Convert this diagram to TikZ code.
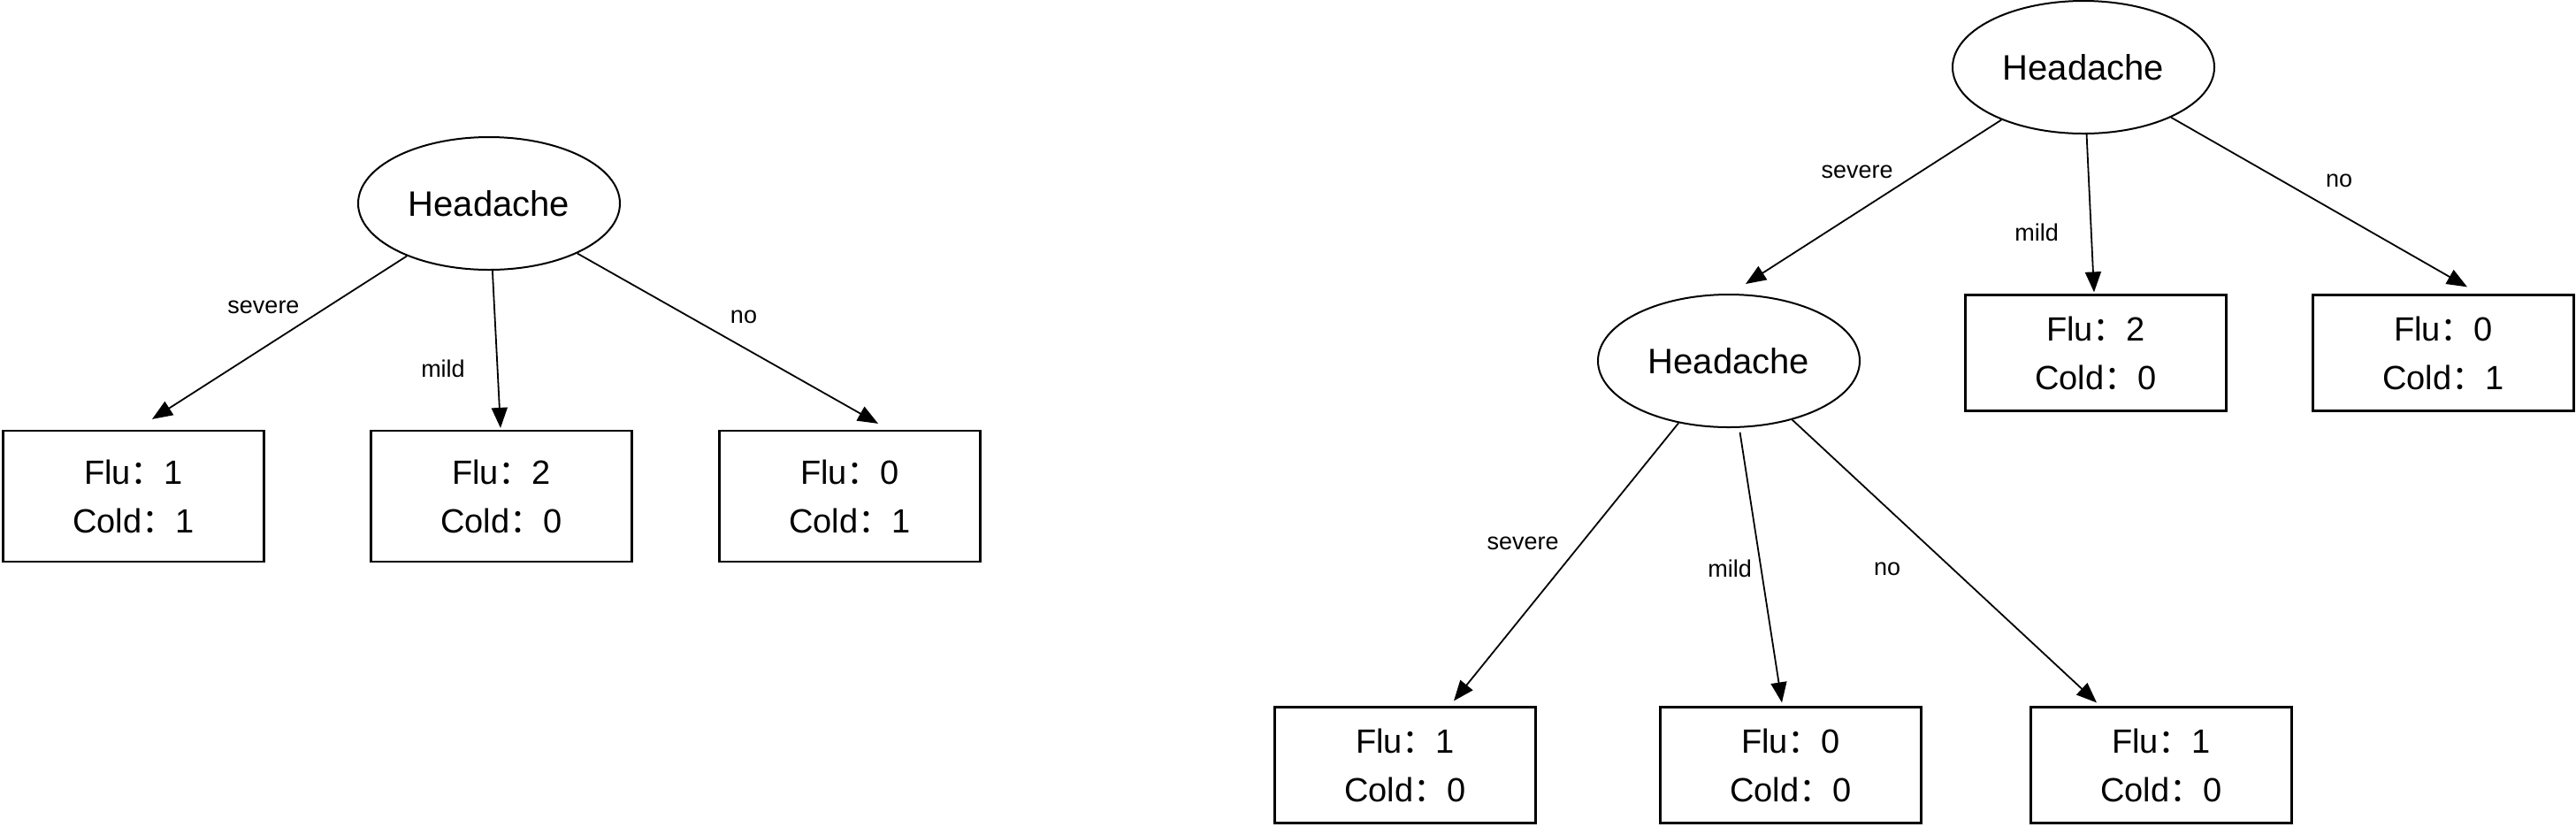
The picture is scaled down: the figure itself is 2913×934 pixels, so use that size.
\documentclass[tikz,border=0pt]{standalone}
\usepackage{fontspec}
\setmainfont{Liberation Sans}
\newfontfamily\cjk{Noto Sans CJK SC}
\usetikzlibrary{shapes.geometric,arrows.meta,calc}
\newcommand{\fcol}{{\cjk ：}}
\begin{document}
\begin{tikzpicture}[x=0.5pt,y=-0.5pt,
  hd/.style={ellipse,draw,line width=1pt,minimum width=148pt,minimum height=75pt,inner sep=0pt,font=\fontsize{20}{24}\selectfont},
  leafL/.style={rectangle,draw,line width=1.1pt,minimum width=147.5pt,minimum height=74pt,inner sep=0pt,align=center,font=\fontsize{19}{27.5}\selectfont},
  leafR/.style={leafL,minimum height=65.5pt},
  edge/.style={-{Triangle[length=11.5pt,width=9pt]},line width=0.9pt},
  lbl/.style={font=\fontsize{13.5}{16}\selectfont,inner sep=0pt}]
\useasboundingbox (0,0) rectangle (2913,934);
% left tree
\node[hd] (h1) at (553,230) {Headache};
\node[leafL] (b1) at (151,561) {Flu\fcol 1\\Cold\fcol 1};
\node[leafL] (b2) at (567,561) {Flu\fcol 2\\Cold\fcol 0};
\node[leafL] (b3) at (961,561) {Flu\fcol 0\\Cold\fcol 1};
\draw[edge] (h1) -- ($(b1.north)+(21,-12)$);
\draw[edge] (h1) -- ($(b2.north)+(-1,-2)$);
\draw[edge] (h1) -- ($(b3.north)+(32,-7)$);
\node[lbl] (l1) at (298,347) {severe};
\node[lbl] (l2) at (501,417) {mild};
\node[lbl] (l3) at (841,358) {no};
% right tree
\node[hd] (h2) at (2356,76) {Headache};
\node[hd] (h3) at (1955,408) {Headache};
\node[leafR] (b4) at (2370,399) {Flu\fcol 2\\Cold\fcol 0};
\node[leafR] (b5) at (2763,399) {Flu\fcol 0\\Cold\fcol 1};
\node[leafR] (b6) at (1589,865) {Flu\fcol 1\\Cold\fcol 0};
\node[leafR] (b7) at (2025,865) {Flu\fcol 0\\Cold\fcol 0};
\node[leafR] (b8) at (2444,865) {Flu\fcol 1\\Cold\fcol 0};
\draw[edge] (h2) -- ($(h3.north)+(19,-11)$);
\draw[edge] (h2) -- ($(b4.north)+(-2,-2)$);
\draw[edge] (h2) -- ($(b5.north)+(27,-8)$);
\draw[edge] (h3) -- ($(b6.north)+(55,-6)$);
\draw[edge,shorten <=2.5pt] (h3) -- ($(b7.north)+(-10,-4)$);
\draw[edge] (h3) -- ($(b8.north)+(-73,-4)$);
\node[lbl] (l4) at (2100,194) {severe};
\node[lbl] (l5) at (2303,263) {mild};
\node[lbl] (l6) at (2645,204) {no};
\node[lbl] (l7) at (1722,614) {severe};
\node[lbl] (l8) at (1956,643) {mild};
\node[lbl] (l9) at (2134,643) {no};
\end{tikzpicture}
\end{document}
